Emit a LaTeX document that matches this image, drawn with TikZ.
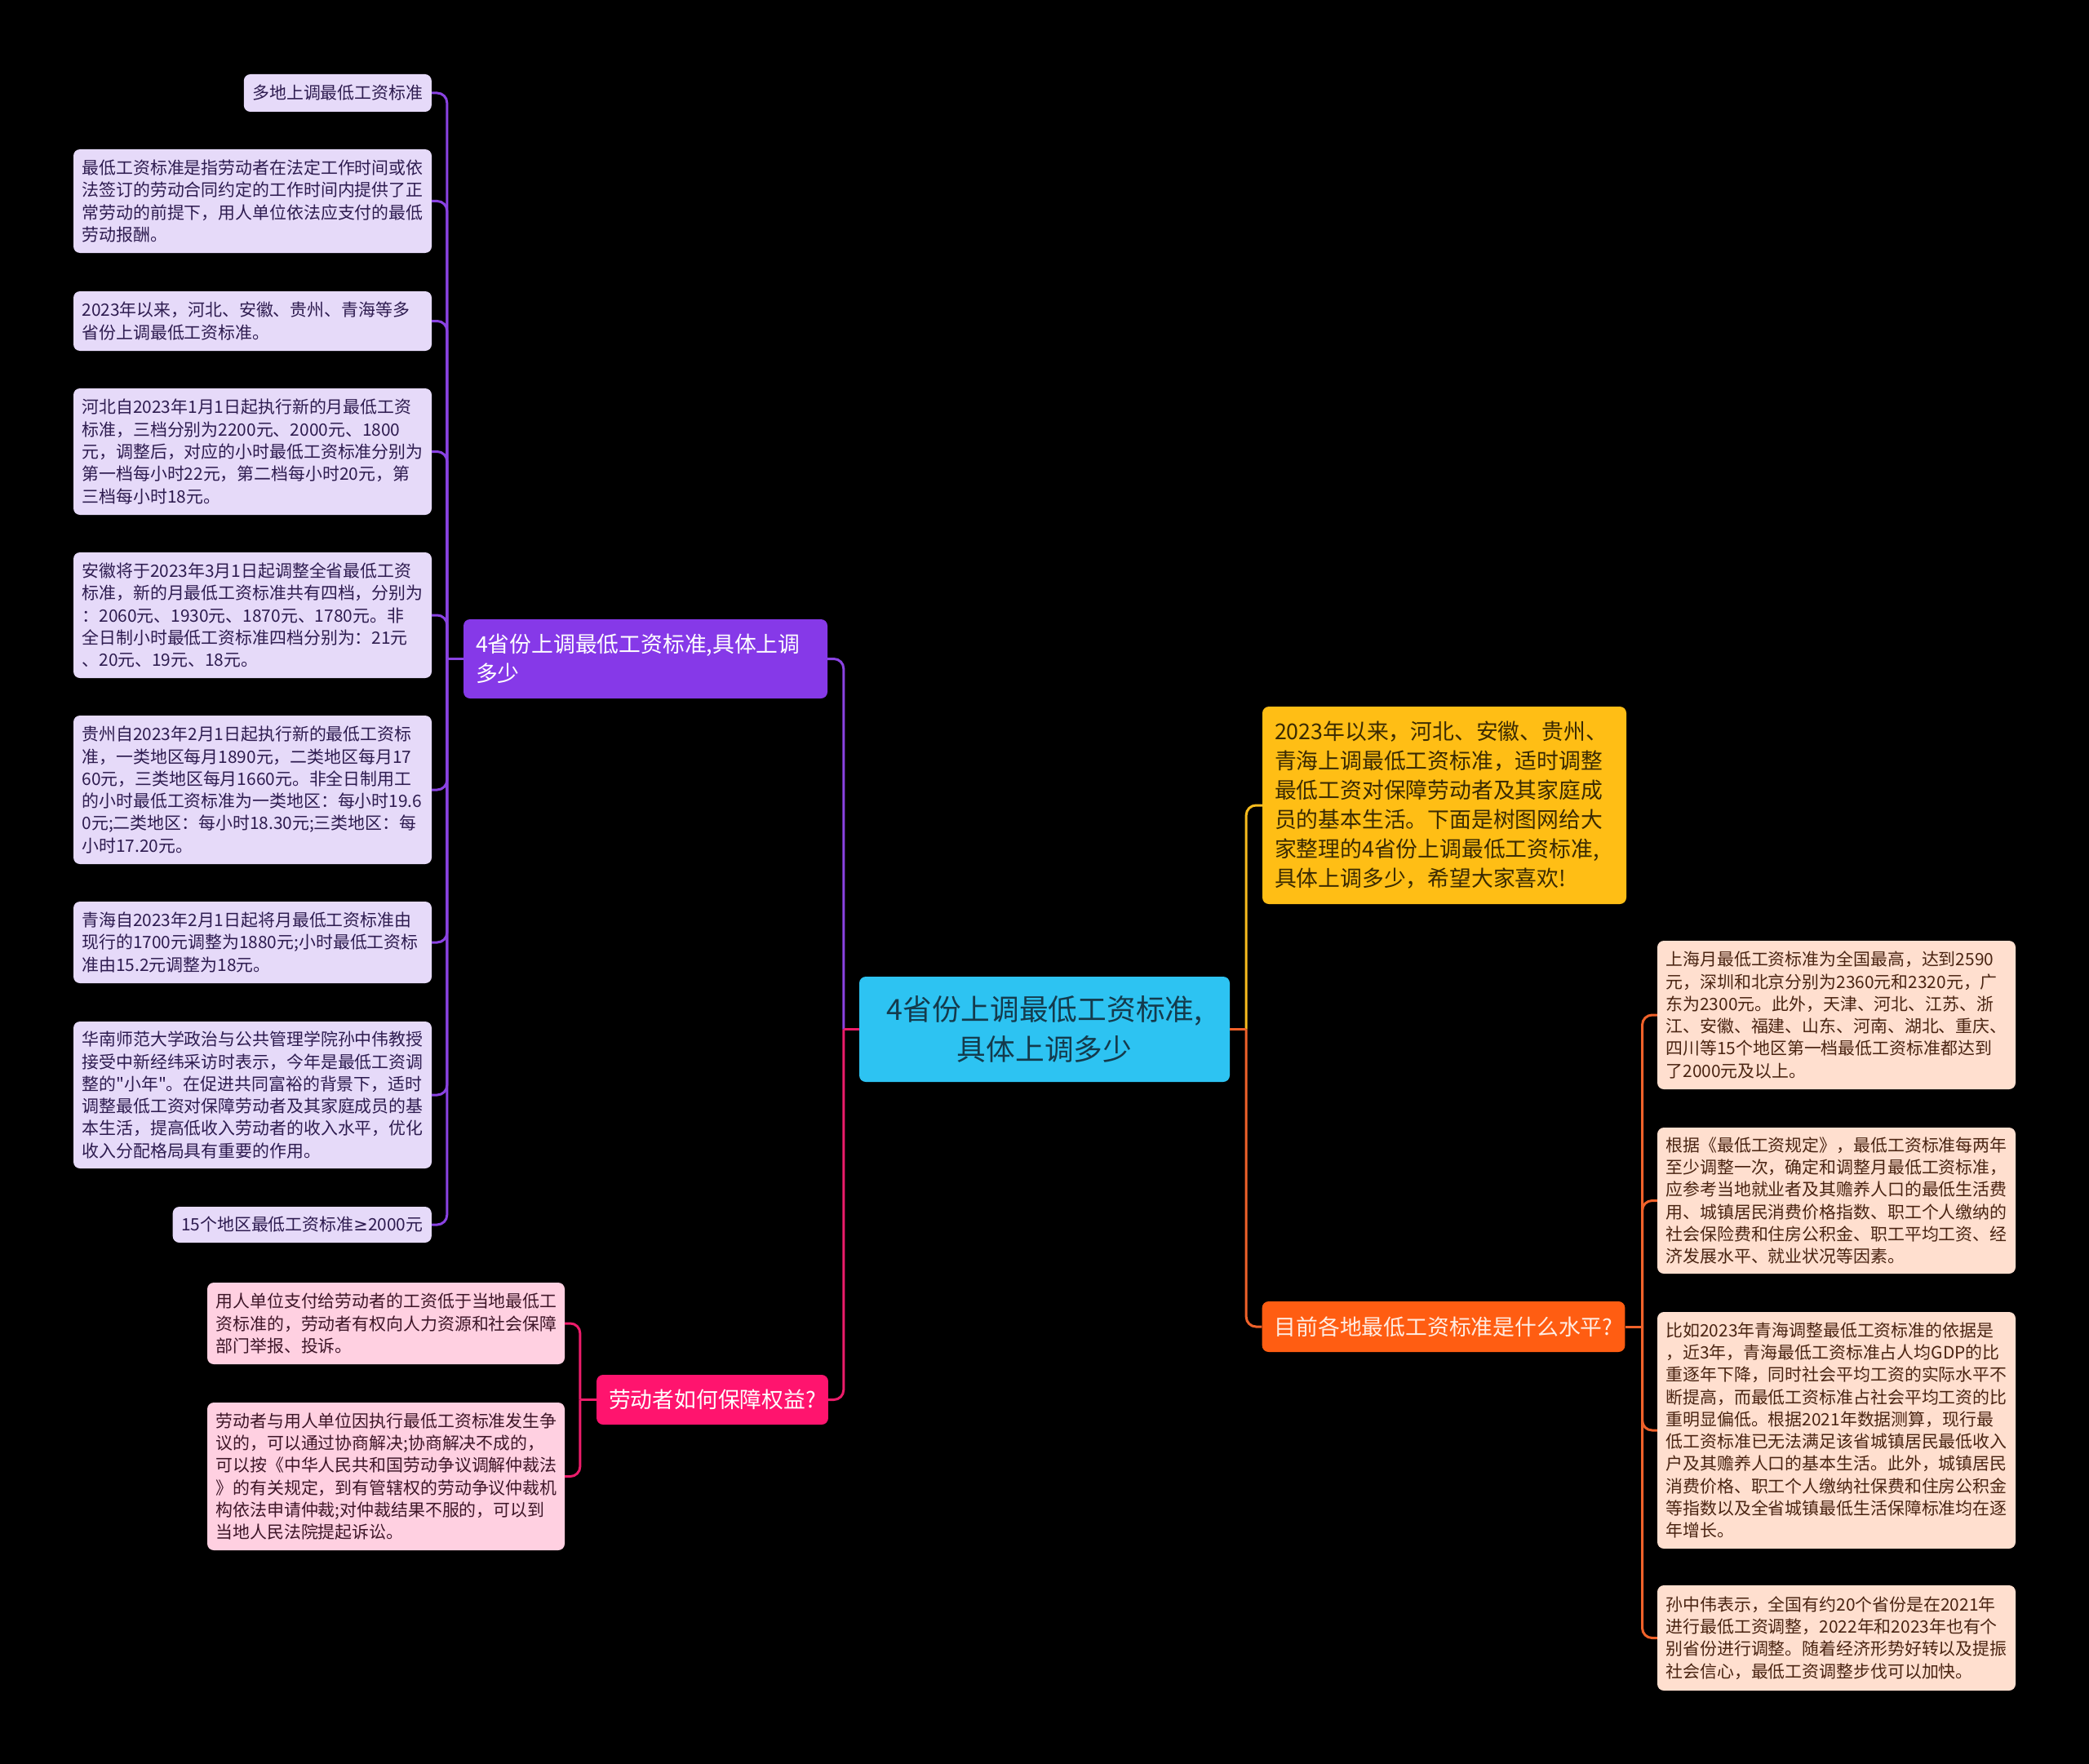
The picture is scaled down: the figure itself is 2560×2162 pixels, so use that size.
\documentclass[tikz,border=0pt]{standalone}
\usepackage{fontspec}
\setmainfont{Noto Sans CJK SC}[Ligatures=TeXOff]
\newfontfamily\symfont{DejaVu Sans}
\definecolor{rootblue}{HTML}{2DC3F2}
\definecolor{roottext}{HTML}{143A4C}
\definecolor{purplemain}{HTML}{8639E8}
\definecolor{purpleleaf}{HTML}{E6DAF9}
\definecolor{purpletext}{HTML}{2E1C50}
\definecolor{purpleline}{HTML}{8A43E2}
\definecolor{pinkmain}{HTML}{FF146E}
\definecolor{pinkleaf}{HTML}{FFD0E1}
\definecolor{pinktext}{HTML}{3E1628}
\definecolor{pinkline}{HTML}{EC1C6A}
\definecolor{orangemain}{HTML}{FF5D12}
\definecolor{orangeleaf}{HTML}{FFDFCF}
\definecolor{orangetext}{HTML}{4A2412}
\definecolor{orangeline}{HTML}{F0622A}
\definecolor{yellowmain}{HTML}{FFBE15}
\definecolor{yellowtext}{HTML}{3A2A02}
\definecolor{yellowline}{HTML}{F9BC1E}
\begin{document}
\begin{tikzpicture}[x=1pt,y=-1pt,
  leaf/.style={rounded corners=8pt,inner xsep=10.5pt,inner ysep=0pt,text width=418pt,align=left,font=\fontsize{20.9}{27.3}\selectfont},
  shortleaf/.style={rounded corners=8pt,inner xsep=10.5pt,inner ysep=0pt,anchor=east,font=\fontsize{20.9}{27.3}\selectfont},
  branch/.style={rounded corners=8pt,inner xsep=15pt,inner ysep=0pt,font=\fontsize{26.8}{36}\selectfont},
  link/.style={line width=3pt,rounded corners=12pt}]
\fill[black] (0,0) rectangle (2560,2162);

\node[rounded corners=8pt,fill=rootblue,text=roottext,align=center,minimum width=454pt,minimum height=129pt,font=\fontsize{35.7}{49}\selectfont] (root) at (1280,1261.5) {4省份上调最低工资标准,\\具体上调多少};

\node[branch,fill=purplemain,text=white,text width=416pt,align=left,minimum height=97pt] (prov) at (791,807.5) {4省份上调最低工资标准,具体上调\\多少};
\node[branch,fill=pinkmain,text=white,align=center,minimum width=280pt,minimum height=61pt] (rights) at (873,1715.5) {劳动者如何保障权益?};
\node[branch,fill=yellowmain,text=yellowtext,text width=416pt,align=left,minimum height=242pt] (intro) at (1770,987) {2023年以来，河北、安徽、贵州、\\青海上调最低工资标准，适时调整\\最低工资对保障劳动者及其家庭成\\员的基本生活。下面是树图网给大\\家整理的4省份上调最低工资标准,\\具体上调多少，希望大家喜欢!};
\node[branch,fill=orangemain,text=orangeleaf!60!white,align=center,minimum width=444pt,minimum height=62pt] (level) at (1769,1626) {目前各地最低工资标准是什么水平?};

\node[shortleaf,fill=purpleleaf,text=purpletext,minimum height=46pt] (prov1) at (529,114) {多地上调最低工资标准};
\node[leaf,fill=purpleleaf,text=purpletext,minimum height=127pt] (prov2) at (309.5,246.5) {最低工资标准是指劳动者在法定工作时间或依\\法签订的劳动合同约定的工作时间内提供了正\\常劳动的前提下，用人单位依法应支付的最低\\劳动报酬。};
\node[leaf,fill=purpleleaf,text=purpletext,minimum height=73pt] (prov3) at (309.5,393.5) {2023年以来，河北、安徽、贵州、青海等多\\省份上调最低工资标准。};
\node[leaf,fill=purpleleaf,text=purpletext,minimum height=155pt] (prov4) at (309.5,553.5) {河北自2023年1月1日起执行新的月最低工资\\标准，三档分别为2200元、2000元、1800\\元，调整后，对应的小时最低工资标准分别为\\第一档每小时22元，第二档每小时20元，第\\三档每小时18元。};
\node[leaf,fill=purpleleaf,text=purpletext,minimum height=154pt] (prov5) at (309.5,754) {安徽将于2023年3月1日起调整全省最低工资\\标准，新的月最低工资标准共有四档，分别为\\：2060元、1930元、1870元、1780元。非\\全日制小时最低工资标准四档分别为：21元\\、20元、19元、18元。};
\node[leaf,fill=purpleleaf,text=purpletext,minimum height=182pt] (prov6) at (309.5,968) {贵州自2023年2月1日起执行新的最低工资标\\准，一类地区每月1890元，二类地区每月17\\60元，三类地区每月1660元。非全日制用工\\的小时最低工资标准为一类地区：每小时19.6\\0元;二类地区：每小时18.30元;三类地区：每\\小时17.20元。};
\node[leaf,fill=purpleleaf,text=purpletext,minimum height=100pt] (prov7) at (309.5,1155) {青海自2023年2月1日起将月最低工资标准由\\现行的1700元调整为1880元;小时最低工资标\\准由15.2元调整为18元。};
\node[leaf,fill=purpleleaf,text=purpletext,minimum height=180pt] (prov8) at (309.5,1342) {华南师范大学政治与公共管理学院孙中伟教授\\接受中新经纬采访时表示，今年是最低工资调\\整的"小年"。在促进共同富裕的背景下，适时\\调整最低工资对保障劳动者及其家庭成员的基\\本生活，提高低收入劳动者的收入水平，优化\\收入分配格局具有重要的作用。};
\node[shortleaf,fill=purpleleaf,text=purpletext,minimum height=44pt] (prov9) at (529,1501) {15个地区最低工资标准{\symfont ≥}2000元};

\node[leaf,fill=pinkleaf,text=pinktext,text width=417pt,minimum height=100pt] (rights1) at (473,1622) {用人单位支付给劳动者的工资低于当地最低工\\资标准的，劳动者有权向人力资源和社会保障\\部门举报、投诉。};
\node[leaf,fill=pinkleaf,text=pinktext,text width=417pt,minimum height=181pt] (rights2) at (473,1809.5) {劳动者与用人单位因执行最低工资标准发生争\\议的，可以通过协商解决;协商解决不成的，\\可以按《中华人民共和国劳动争议调解仲裁法\\》的有关规定，到有管辖权的劳动争议仲裁机\\构依法申请仲裁;对仲裁结果不服的，可以到\\当地人民法院提起诉讼。};

\node[leaf,fill=orangeleaf,text=orangetext,minimum height=182pt] (level1) at (2250.5,1244) {上海月最低工资标准为全国最高，达到2590\\元，深圳和北京分别为2360元和2320元，广\\东为2300元。此外，天津、河北、江苏、浙\\江、安徽、福建、山东、河南、湖北、重庆、\\四川等15个地区第一档最低工资标准都达到\\了2000元及以上。};
\node[leaf,fill=orangeleaf,text=orangetext,minimum height=179pt] (level2) at (2250.5,1471.5) {根据《最低工资规定》，最低工资标准每两年\\至少调整一次，确定和调整月最低工资标准，\\应参考当地就业者及其赡养人口的最低生活费\\用、城镇居民消费价格指数、职工个人缴纳的\\社会保险费和住房公积金、职工平均工资、经\\济发展水平、就业状况等因素。};
\node[leaf,fill=orangeleaf,text=orangetext,minimum height=290pt] (level3) at (2250.5,1753) {比如2023年青海调整最低工资标准的依据是\\，近3年，青海最低工资标准占人均GDP的比\\重逐年下降，同时社会平均工资的实际水平不\\断提高，而最低工资标准占社会平均工资的比\\重明显偏低。根据2021年数据测算，现行最\\低工资标准已无法满足该省城镇居民最低收入\\户及其赡养人口的基本生活。此外，城镇居民\\消费价格、职工个人缴纳社保费和住房公积金\\等指数以及全省城镇最低生活保障标准均在逐\\年增长。};
\node[leaf,fill=orangeleaf,text=orangetext,minimum height=129pt] (level4) at (2250.5,2007.5) {孙中伟表示，全国有约20个省份是在2021年\\进行最低工资调整，2022年和2023年也有个\\别省份进行调整。随着经济形势好转以及提振\\社会信心，最低工资调整步伐可以加快。};

\coordinate (rootL) at ([xshift=-19pt]root.west);
\coordinate (rootR) at ([xshift=20pt]root.east);
\coordinate (provJ) at ([xshift=-20pt]prov.west);
\coordinate (rightsJ) at ([xshift=-20pt]rights.west);
\coordinate (levelJ) at ([xshift=21pt]level.east);

\draw[link,purpleline] (rootL) |- (prov.east);
\draw[link,pinkline] (rootL) |- (rights.east);
\draw[link,pinkline] (root.west) -- (rootL);
\draw[link,yellowline] (rootR) |- (intro.west);
\draw[link,orangeline] (rootR) |- (level.west);
\draw[link,orangeline] (root.east) -- (rootR);

\draw[link,purpleline] (prov.west) -- (provJ);
\foreach \k in {1,...,9}
  \draw[link,purpleline] (provJ) |- (prov\k.east);

\draw[link,pinkline] (rights.west) -- (rightsJ);
\foreach \k in {1,2}
  \draw[link,pinkline] (rightsJ) |- (rights\k.east);

\draw[link,orangeline] (level.east) -- (levelJ);
\foreach \k in {1,...,4}
  \draw[link,orangeline] (levelJ) |- (level\k.west);
\end{tikzpicture}
\end{document}
